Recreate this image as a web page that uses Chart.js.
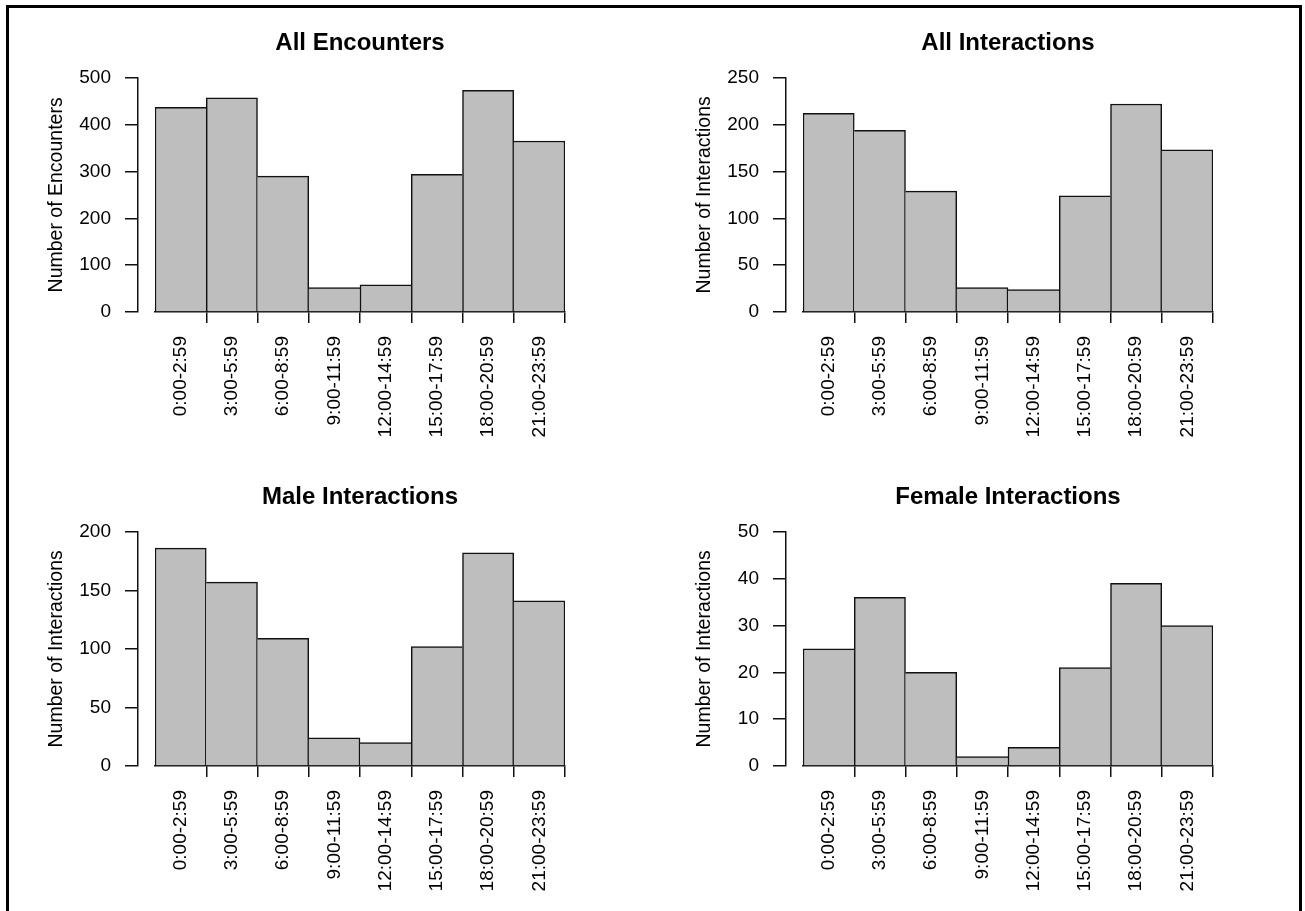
<!DOCTYPE html>
<html>
<head>
<meta charset="utf-8">
<script src="https://cdn.jsdelivr.net/npm/chart.js@4.4.1/dist/chart.umd.min.js"></script>
<style>
  body { margin: 0; background: #fff; width: 1305px; height: 911px; overflow: hidden; position: relative; }
  canvas { position: absolute; }
  #frame {
    position: absolute; left: 6px; top: 5px; width: 1290px; height: 1000px;
    border: 3px solid #000; border-bottom: none; pointer-events: none;
  }
</style>
</head>
<body>
<div id="frame"></div>
<canvas id="c0" width="648" height="454" style="left:0px;top:0px"></canvas>
<canvas id="c1" width="648" height="454" style="left:648px;top:0px"></canvas>
<canvas id="c2" width="648" height="454" style="left:0px;top:454px"></canvas>
<canvas id="c3" width="648" height="454" style="left:648px;top:454px"></canvas>
<script>
// time-of-day bins (x axis)
const timeBins = ['0:00-2:59', '3:00-5:59', '6:00-8:59', '9:00-11:59',
  '12:00-14:59', '15:00-17:59', '18:00-20:59', '21:00-23:59'];

// counts per bin
const allEncounters = [437, 457, 290, 52, 58, 294, 473, 365];
const allInteractions = [212, 194, 129, 26, 24, 124, 222, 173];
const maleInteractions = [186, 157, 109, 24, 20, 102, 182, 141];
const femaleInteractions = [25, 36, 20, 2, 4, 21, 39, 30];

const panelTitles = ['All Encounters', 'All Interactions', 'Male Interactions', 'Female Interactions'];
const panelYLabels = ['Number of Encounters', 'Number of Interactions', 'Number of Interactions', 'Number of Interactions'];
const panelYMax = [500, 250, 200, 50];
const panelYStep = [100, 50, 50, 10];
const panelSeries = [allEncounters, allInteractions, maleInteractions, femaleInteractions];

Chart.defaults.font.family = "'Liberation Sans', Arial, sans-serif";
Chart.defaults.color = '#000';

const LINE = 1.5;

// outline like R's rect(): each shared edge drawn once, by the taller bar
function barBorder(ctx) {
  const v = ctx.dataset.data;
  const i = ctx.dataIndex;
  const prev = i > 0 ? v[i - 1] : -Infinity;
  const next = i < v.length - 1 ? v[i + 1] : -Infinity;
  return { top: LINE, bottom: 0, left: v[i] > prev ? LINE : 0, right: v[i] >= next ? LINE : 0 };
}

panelSeries.forEach((series, p) => {
  new Chart(document.getElementById('c' + p), {
    type: 'bar',
    data: {
      labels: timeBins,
      datasets: [{
        data: series,
        backgroundColor: '#bebebe',
        borderColor: '#111',
        borderWidth: barBorder,
        borderSkipped: false,
        categoryPercentage: 1,
        barPercentage: 1
      }]
    },
    options: {
      responsive: false,
      animation: false,
      layout: { padding: { left: 38, right: 83, top: 0, bottom: 0 } },
      plugins: {
        legend: { display: false },
        tooltip: { enabled: false },
        title: {
          display: true,
          text: panelTitles[p],
          fullSize: false,
          font: { size: 24, weight: 'bold' },
          padding: { top: 29, bottom: 20 }
        }
      },
      scales: {
        x: {
          grid: {
            offset: true,
            drawOnChartArea: false,
            tickLength: 11,
            lineWidth: LINE,
            color: ctx => ctx.index === 0 ? 'rgba(0,0,0,0)' : '#111'
          },
          border: { display: true, color: '#111', width: LINE },
          ticks: { minRotation: 90, maxRotation: 90, autoSkip: false, padding: 13, font: { size: 19 } },
          afterFit: s => { s.height = 142; }
        },
        y: {
          position: 'left',
          weight: 1,
          min: 0,
          max: panelYMax[p],
          ticks: { stepSize: panelYStep[p], padding: 14, font: { size: 19 } },
          grid: { drawOnChartArea: false, tickLength: 13, color: '#111', lineWidth: LINE },
          border: { display: true, color: '#111', width: LINE },
          title: { display: true, text: panelYLabels[p], font: { size: 19.5 }, padding: { top: 7, bottom: 0 } },
          afterFit: s => { s.width = 100; }
        },
        yGap: {
          type: 'linear',
          position: 'left',
          weight: 0,
          display: true,
          grid: { display: false },
          ticks: { display: false },
          border: { display: false },
          afterFit: s => { s.width = 17; }
        }
      }
    }
  });
});
</script>
</body>
</html>
